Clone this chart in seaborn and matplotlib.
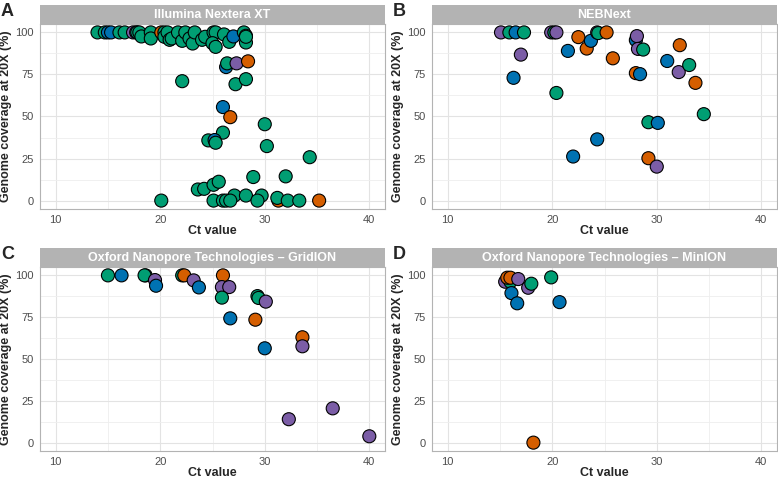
"""
Genome coverage at 20X vs Ct value, one panel per sequencing method.
"""

import matplotlib.pyplot as plt
import numpy as np
import pandas as pd
import seaborn as sns
from matplotlib.patches import Rectangle
from matplotlib.ticker import MultipleLocator

sns.set_theme(style="whitegrid")
plt.rcParams['font.family'] = ['Liberation Sans', 'DejaVu Sans']

# group colours
palette = {"Group 1": "#009E73", "Group 2": "#0072B2",
           "Group 3": "#D55E00", "Group 4": "#7B5DA6"}
G, B, O, P = "Group 1", "Group 2", "Group 3", "Group 4"

# Panel A - Illumina Nextera XT
a_ct = [14.0, 14.7, 15.0, 15.3, 16.1, 16.6, 17.4, 17.7, 17.8, 18.0, 18.2, 19.1, 19.1,
        20.1, 20.4, 20.4, 20.7, 20.9, 21.1, 21.7, 22.1, 22.4, 22.8, 23.1, 23.3, 24.0,
        24.3, 25.1, 25.3, 25.0, 25.3, 26.1, 26.6, 27.0, 28.0, 28.2, 28.2, 28.2,
        26.3, 26.4, 27.3, 28.4, 22.1, 27.2, 28.2, 26.0, 26.7, 30.0, 26.0, 24.6, 25.2,
        25.3, 30.2, 34.3, 28.9, 32.0, 23.6, 24.2, 25.1, 25.6, 27.1, 28.2, 29.7,
        20.1, 25.1, 26.0, 26.3, 26.7, 29.3, 31.3, 31.2, 32.2, 33.3, 35.2]
a_cov = [100, 100, 100, 100, 100, 100, 100, 100, 100, 100, 97.6, 100, 96.4,
         100, 100, 97.4, 100, 95.6, 96.4, 100, 95.0, 100, 96.4, 93.4, 100, 95.6,
         97.4, 100, 100, 93.6, 91.4, 98.8, 94.4, 97.6, 100, 98.0, 94.0, 97.4,
         79.4, 81.6, 81.6, 82.8, 71.0, 69.2, 72.2, 55.6, 49.6, 45.4, 40.4, 35.8, 36.0,
         34.4, 32.4, 25.8, 14.0, 14.4, 6.6, 7.0, 9.4, 11.2, 3.0, 3.0, 3.0,
         0, 0, 0, 0, 0, 0, 0, 1.6, 0, 0, 0]
a_grp = [G, G, B, B, G, G, P, P, G, G, G, G, G,
         O, G, G, G, G, G, G, G, G, G, G, G, G,
         G, G, G, G, G, G, G, B, G, G, G, G,
         B, G, P, O, G, G, G, B, O, G, G, G, B,
         G, G, G, G, G, G, G, G, G, G, G, G,
         G, G, G, G, G, G, O, G, G, G, O]

# Panel B - NEBNext
b_ct = [15.1, 15.9, 16.5, 17.3, 17.0, 16.3, 19.9, 20.2, 20.4, 20.4, 21.5, 22.5, 22.0,
        23.3, 23.7, 24.3, 24.4, 24.3, 25.2, 25.8, 28.0, 28.1, 28.2, 28.7, 28.0, 28.4,
        29.2, 29.2, 30.1, 30.0, 31.0, 32.2, 32.1, 33.1, 33.7, 34.5]
b_cov = [100, 100, 100, 100, 86.8, 73.0, 100, 100, 100, 64.0, 89.0, 97.2, 26.2,
         90.4, 95.0, 100, 99.6, 36.4, 100, 84.6, 95.4, 97.8, 90.2, 89.8, 75.8, 75.2,
         46.6, 25.2, 46.2, 20.2, 83.0, 92.4, 76.4, 80.6, 70.0, 51.4]
b_grp = [P, G, B, G, P, B, P, G, P, G, B, O, B,
         O, B, P, G, B, O, O, B, P, P, G, O, B,
         G, O, B, P, B, O, P, G, O, G]

# Panel C - Oxford Nanopore Technologies - GridION
c_ct = [15.0, 16.3, 18.6, 18.5, 19.5, 19.6, 22.1, 22.3, 23.2, 23.7, 26.0, 25.9, 26.6,
        25.9, 26.7, 29.3, 29.4, 30.1, 29.1, 30.0, 33.6, 33.6, 32.3, 36.5, 40.0]
c_cov = [100, 100, 100, 100, 97.2, 93.8, 100, 100, 97.0, 92.8, 100, 93.0, 93.0,
         86.7, 74.3, 87.6, 86.5, 84.3, 73.5, 56.4, 63.0, 57.6, 14.0, 20.5, 3.8]
c_grp = [G, B, G, G, P, B, G, O, P, B, O, P, P,
         G, B, G, G, P, O, B, O, P, P, P, P]

# Panel D - Oxford Nanopore Technologies - MinION
d_ct = [15.5, 16.0, 15.7, 16.0, 16.75, 16.1, 16.65, 17.7, 18.0, 18.2, 19.9, 20.7]
d_cov = [96.2, 96.2, 98.6, 98.6, 97.8, 89.4, 83.3, 92.6, 95.0, 0, 98.8, 84.0]
d_grp = [P, G, O, O, P, B, B, P, G, O, G, B]

panels = [
    ("A", "Illumina Nextera XT", a_ct, a_cov, a_grp),
    ("B", "NEBNext", b_ct, b_cov, b_grp),
    ("C", "Oxford Nanopore Technologies \u2013 GridION", c_ct, c_cov, c_grp),
    ("D", "Oxford Nanopore Technologies \u2013 MinION", d_ct, d_cov, d_grp),
]

W, H = 778, 478
fig = plt.figure(figsize=(W / 100, H / 100), dpi=100)

# axes boxes in pixels: left, top, right, bottom
boxes = [(40, 24, 385, 209), (432, 24, 777, 209),
         (40, 267, 385, 451), (432, 267, 777, 451)]
strip_px = 19

for (letter, title, ct, cov, grp), (l, t, r, b) in zip(panels, boxes):
    ax = fig.add_axes([l / W, 1 - b / H, (r - l) / W, (b - t) / H])
    df = pd.DataFrame({"ct": ct, "cov": cov, "group": grp})
    sns.scatterplot(data=df, x="ct", y="cov", hue="group", palette=palette,
                    s=88, edgecolor="black", linewidth=0.8, legend=False,
                    ax=ax, zorder=3)
    ax.set_xlim(8.5, 41.5)
    ax.set_ylim(-5, 105)
    ax.xaxis.set_major_locator(MultipleLocator(10))
    ax.xaxis.set_minor_locator(MultipleLocator(5))
    ax.yaxis.set_major_locator(MultipleLocator(25))
    ax.yaxis.set_minor_locator(MultipleLocator(12.5))
    ax.grid(which="major", color="#E3E3E3", linewidth=0.8)
    ax.grid(which="minor", color="#EEEEEE", linewidth=0.6)
    ax.set_axisbelow(True)
    for sp in ax.spines.values():
        sp.set_color("#B3B3B3")
        sp.set_linewidth(0.8)
    ax.tick_params(which="major", length=2.5, width=0.6, color="#B3B3B3",
                   labelsize=8, labelcolor="#4D4D4D", pad=2)
    ax.tick_params(which="minor", length=0)
    ax.set_xlabel("Ct value", fontsize=9, fontweight="bold", labelpad=0)
    ax.set_ylabel("Genome coverage at 20X (%)", fontsize=9, fontweight="bold",
                  labelpad=2)

    # facet strip
    sh = strip_px / (b - t)
    ax.add_patch(Rectangle((0, 1), 1, sh, transform=ax.transAxes, clip_on=False,
                           facecolor="#B3B3B3", edgecolor="none"))
    ax.text(0.5, 1 + sh / 2, title, transform=ax.transAxes, ha="center",
            va="center", color="white", fontsize=9, fontweight="bold")

    # panel letter
    fig.text((l - 39) / W, 1 - (t - 21) / H, letter, ha="left", va="top",
             fontsize=13, fontweight="bold")

plt.savefig("out.png", dpi=100)
plt.close()
